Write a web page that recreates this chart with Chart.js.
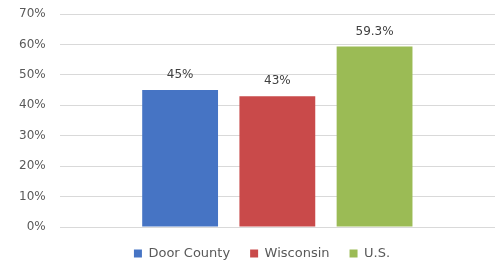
<!DOCTYPE html>
<html>
<head>
<meta charset="utf-8">
<script src="https://cdn.jsdelivr.net/npm/chart.js@4/dist/chart.umd.min.js"></script>
<style>
  html, body { margin: 0; padding: 0; background: #fff; }
  #wrap { width: 498px; height: 266px; }
</style>
</head>
<body>
<div id="wrap"><canvas id="myChart" width="498" height="266"></canvas></div>
<script>
// Datos
const series = ['Door County', 'Wisconsin', 'U.S.'];
const values = [45, 43, 59.3];
const valueLabels = ['45%', '43%', '59.3%'];
const colors = ['#4674c4', '#c94a4a', '#9bbb55'];
const yTicks = [0, 10, 20, 30, 40, 50, 60, 70];

// Etiquetas encima de cada barra
const barLabels = {
    id: 'barLabels',
    afterDatasetsDraw(chart) {
        const ctx = chart.ctx;
        ctx.save();
        ctx.font = '12px "DejaVu Sans"';
        ctx.fillStyle = '#404040';
        ctx.textAlign = 'center';
        ctx.textBaseline = 'middle';
        chart.data.datasets.forEach((ds, i) => {
            const bar = chart.getDatasetMeta(i).data[0];
            ctx.fillText(valueLabels[i], bar.x, bar.y - 15);
        });
        ctx.restore();
    }
};

// La leyenda del original está algo desplazada a la derecha
const legendShift = {
    id: 'legendShift',
    afterLayout(chart) {
        chart.legend.left += 6;
        chart.legend.right += 6;
    }
};

const ctx = document.getElementById('myChart').getContext('2d');
new Chart(ctx, {
    type: 'bar',
    data: {
        labels: [''],
        datasets: series.map((name, i) => ({
            label: name,
            data: [values[i]],
            backgroundColor: colors[i],
            borderWidth: 0
        }))
    },
    options: {
        responsive: false,
        animation: false,
        categoryPercentage: 0.670,
        barPercentage: 0.78,
        layout: { padding: { left: 17, right: 3, top: 14, bottom: -4 } },
        scales: {
            x: { display: false },
            y: {
                min: 0,
                max: 70,
                afterBuildTicks: axis => { axis.ticks = yTicks.map(v => ({ value: v })); },
                border: { display: false },
                grid: { color: '#d9d9d9', drawTicks: true, tickLength: 12, tickColor: 'rgba(0,0,0,0)' },
                ticks: {
                    padding: 2,
                    color: '#595959',
                    font: { family: 'DejaVu Sans', size: 12 },
                    callback: v => v + '%'
                }
            }
        },
        plugins: {
            legend: {
                position: 'bottom',
                labels: {
                    boxWidth: 8,
                    boxHeight: 8,
                    padding: 20,
                    color: '#595959',
                    font: { family: 'DejaVu Sans', size: 13 }
                }
            },
            tooltip: { enabled: false }
        }
    },
    plugins: [barLabels, legendShift]
});
</script>
</body>
</html>
